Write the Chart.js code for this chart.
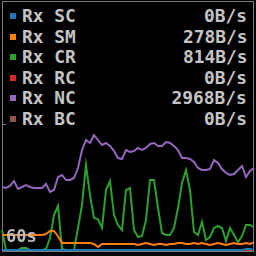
<!DOCTYPE html>
<html>
<head>
<meta charset="utf-8">
<script src="https://cdn.jsdelivr.net/npm/chart.js@4"></script>
<style>
  html, body { margin: 0; padding: 0; background: #000; width: 256px; height: 256px; overflow: hidden; }
  #frame { position: absolute; left: 2px; top: 1px; width: 250px; height: 249px; border: 1px solid #7a7a7a; }
  #tick { position: absolute; left: 2px; top: 124px; width: 4px; height: 1px; background: #7a7a7a; }
  .row { position: absolute; left: 0; width: 256px; height: 20px; line-height: 20px;
         font-family: "DejaVu Sans Mono", monospace; font-size: 17px; font-weight: bold; color: #c4c4c4; }
  .sq { position: absolute; left: 10px; top: 7px; width: 6px; height: 6px; }
  .name { position: absolute; left: 22px; top: 0; white-space: pre; transform: scaleX(1.05); transform-origin: left; }
  .rate { position: absolute; right: 9px; top: 0; white-space: pre; transform: scaleX(1.05); transform-origin: right; }
  #chartBox { position: absolute; left: 0; top: 125px; }
  #span { position: absolute; left: 6px; top: 226px; font-family: "DejaVu Sans Mono", monospace;
          font-size: 17px; font-weight: bold; color: #bdbdbd; }
</style>
</head>
<body>
<div id="frame"></div>
<div id="tick"></div>
<div id="legend"></div>
<div id="chartBox"><canvas id="net" width="256" height="130"></canvas></div>
<div id="span">60s</div>
<script>
const names = ['SC', 'SM', 'CR', 'RC', 'NC', 'BC'];
const colors = ['#1f77b4', '#ff7f0e', '#2ca02c', '#d62728', '#9467bd', '#8c564b'];

// bytes per second, one sample per step, oldest first
const rxSC = [0, 0, 0, 0, 0, 0, 0, 0, 0, 0, 0, 0, 0, 0, 0, 0,
  0, 0, 0, 0, 0, 0, 0, 0, 0, 0, 0, 0, 0, 0, 0, 0,
  0, 0, 0, 0, 0, 0, 0, 0, 0, 0, 0, 0, 0, 0, 0, 0,
  0, 0, 0, 0, 0, 0, 0, 0, 0, 0, 0, 0, 0, 40, 40, 0];
const rxSM = [543, 543, 543, 543, 543, 543, 543, 543, 543, 543, 543, 580, 688, 688, 500, 253,
  253, 253, 253, 253, 253, 253, 253, 217, 109, 217, 217, 217, 217, 217, 217, 217,
  217, 217, 181, 217, 253, 217, 181, 217, 217, 181, 217, 217, 253, 253, 217, 217,
  253, 217, 253, 217, 181, 217, 253, 217, 181, 217, 253, 217, 217, 253, 217, 278];
const rxCR = [724, 0, 0, 0, 0, 72, 72, 0, 0, 0, 0, 36, 434, 1267, 1593, 36,
  0, 0, 0, 796, 1629, 3077, 1991, 1158, 1122, 796, 2172, 2498, 1267, 905, 724, 2172,
  2244, 724, 471, 507, 1086, 2534, 2534, 1520, 615, 543, 543, 796, 1520, 2425, 2896, 2172,
  652, 543, 1014, 362, 471, 796, 869, 796, 326, 796, 543, 290, 507, 905, 905, 814];
const rxRC = [0, 0, 0, 0, 0, 0, 0, 0, 0, 0, 0, 0, 0, 0, 0, 0,
  0, 0, 0, 0, 0, 0, 0, 0, 0, 0, 0, 0, 0, 0, 0, 0,
  0, 0, 0, 0, 0, 0, 0, 0, 0, 0, 0, 0, 0, 0, 0, 0,
  0, 0, 0, 0, 0, 0, 0, 0, 0, 0, 0, 0, 0, 0, 0, 0];
const rxNC = [2281, 2244, 2317, 2498, 2208, 2281, 2353, 2281, 2244, 2244, 2244, 2389, 2100, 2172, 2643, 2715,
  2534, 2534, 2606, 2968, 3620, 3982, 3873, 4163, 3982, 3801, 3873, 3765, 3584, 3330, 3294, 3620,
  3548, 3584, 3692, 3620, 3692, 3837, 3873, 3765, 3765, 3910, 3873, 3765, 3620, 3330, 3330, 3294,
  3186, 2968, 2896, 2896, 2932, 3258, 3149, 2932, 2787, 2715, 2751, 2896, 3041, 2643, 2860, 2968];
const rxBC = [0, 0, 0, 0, 0, 0, 0, 0, 0, 0, 0, 0, 0, 0, 0, 0,
  0, 0, 0, 0, 0, 0, 0, 0, 0, 0, 0, 0, 0, 0, 0, 0,
  0, 0, 0, 0, 0, 0, 0, 0, 0, 0, 0, 0, 0, 0, 0, 0,
  0, 0, 0, 0, 0, 0, 0, 0, 0, 0, 0, 0, 0, 0, 0, 0];
const seconds = rxNC.map((_, i) => rxNC.length - 1 - i);
const allRx = [rxSC, rxSM, rxCR, rxRC, rxNC, rxBC];

const legend = document.getElementById('legend');
names.forEach((name, i) => {
  const row = document.createElement('div');
  row.className = 'row';
  row.style.top = (6 + i * 20.6) + 'px';
  const last = allRx[i][allRx[i].length - 1];
  row.innerHTML = `<div class="sq" style="background:${colors[i]}"></div>` +
    `<span class="name">Rx ${name}</span><span class="rate">${last}B/s</span>`;
  legend.appendChild(row);
});

new Chart(document.getElementById('net'), {
  type: 'line',
  data: {
    labels: seconds,
    datasets: names.map((name, i) => ({
      label: 'Rx ' + name,
      data: allRx[i],
      borderColor: colors[i],
      borderWidth: 2,
      pointRadius: 0,
      tension: 0,
      fill: false,
      clip: false,
    })),
  },
  options: {
    responsive: false,
    animation: false,
    layout: { padding: { left: 2, right: 2, top: 0, bottom: 5 } },
    plugins: { legend: { display: false }, tooltip: { enabled: false } },
    scales: {
      x: { display: false },
      y: { display: false, min: 0, max: 4525 },
    },
  },
});
</script>
</body>
</html>
